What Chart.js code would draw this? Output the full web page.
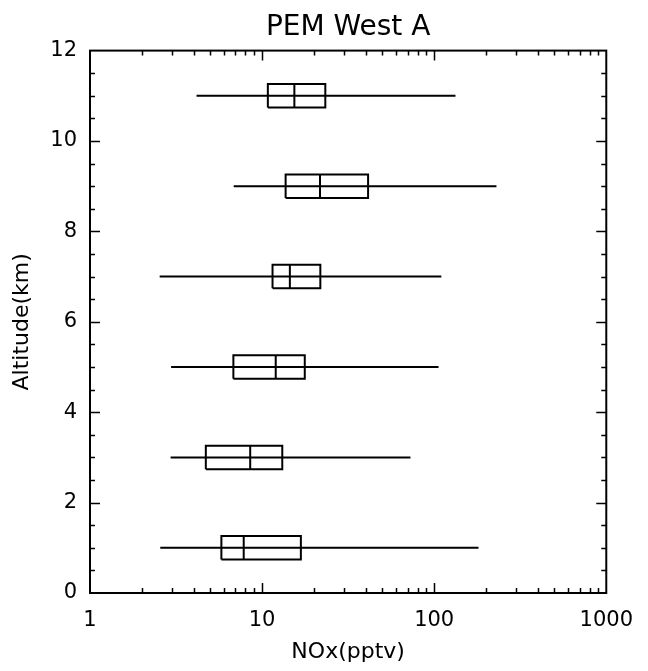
<!DOCTYPE html>
<html>
<head>
<meta charset="utf-8">
<title>PEM West A</title>
<script src="https://cdn.jsdelivr.net/npm/chart.js@4.4.1/dist/chart.umd.min.js"></script>
<style>
  html, body { margin: 0; padding: 0; background: #fff; }
  #wrap { width: 648px; height: 671px; position: relative; }
</style>
</head>
<body>
<div id="wrap"><canvas id="chartBox"></canvas></div>
<script>
// Altitude bins (km) and NOx statistics (pptv)
const altitudes   = [1, 3, 5, 7, 9, 11];
const whiskerLow  = [2.56, 2.94, 2.96, 2.54, 6.84, 4.16];
const quartile1   = [5.8, 4.71, 6.81, 11.5, 13.7, 10.8];
const medians     = [7.82, 8.53, 12.0, 14.5, 21.7, 15.4];
const quartile3   = [16.8, 13.1, 17.7, 21.8, 41.3, 23.3];
const whiskerHigh = [181, 72.8, 106, 110, 230, 133];

// Axis ticks
const xTickValues = [1, 10, 100, 1000];
const xTickLabels = ['1', '10', '100', '1000'];
const yTickValues = [0, 2, 4, 6, 8, 10, 12];

const BOX_HALF = 0.26; // half box height, in km

// Build line segments (null point = break in the line)
const gap = { x: null, y: null };
const whiskerPts = [], boxPts = [], medianPts = [];
altitudes.forEach(function(alt, i){
  whiskerPts.push({ x: whiskerLow[i], y: alt }, { x: whiskerHigh[i], y: alt }, gap);
  boxPts.push(
    { x: quartile1[i], y: alt - BOX_HALF },
    { x: quartile3[i], y: alt - BOX_HALF },
    { x: quartile3[i], y: alt + BOX_HALF },
    { x: quartile1[i], y: alt + BOX_HALF },
    { x: quartile1[i], y: alt - BOX_HALF },
    gap
  );
  medianPts.push({ x: medians[i], y: alt - BOX_HALF }, { x: medians[i], y: alt + BOX_HALF }, gap);
});

function lineSet(label, pts) {
  return {
    label: label, data: pts, showLine: true, spanGaps: false,
    borderColor: '#000', borderWidth: 2, pointRadius: 0, pointHoverRadius: 0,
    borderCapStyle: 'butt', borderJoinStyle: 'miter', tension: 0
  };
}

// Frame with inward ticks on all four sides (IDL style)
const frameTicks = {
  id: 'frameTicks',
  afterLayout(chart) {
    // centre the title over the plot box, not the whole canvas
    const tb = chart.titleBlock, a = chart.chartArea;
    if (tb) { tb.left = a.left; tb.right = a.right; tb.width = a.right - a.left; }
  },
  afterDatasetsDraw(chart) {
    const { ctx, chartArea: a, scales: { x, y } } = chart;
    ctx.save();
    ctx.strokeStyle = '#000';
    ctx.lineWidth = 2;
    ctx.strokeRect(a.left, a.top, a.right - a.left, a.bottom - a.top);
    ctx.lineWidth = 1.5;
    ctx.beginPath();
    // x: log ticks
    [1, 10, 100].forEach(function(dec){
      for (let m = 1; m <= 9; m++) {
        const v = dec * m;
        if (v <= 1) continue;
        const px = Math.round(x.getPixelForValue(v)) + 0.5;
        const len = (m === 1) ? 10 : 5;
        ctx.moveTo(px, a.bottom); ctx.lineTo(px, a.bottom - len);
        ctx.moveTo(px, a.top);    ctx.lineTo(px, a.top + len);
      }
    });
    // y: major every 2, minor every 0.5
    for (let k = 1; k < 24; k++) {
      const v = k * 0.5;
      const py = Math.round(y.getPixelForValue(v)) + 0.5;
      const len = (v % 2 === 0) ? 10 : 5;
      ctx.moveTo(a.left, py);  ctx.lineTo(a.left + len, py);
      ctx.moveTo(a.right, py); ctx.lineTo(a.right - len, py);
    }
    ctx.stroke();
    ctx.restore();
  }
};

const FONT = 'DejaVu Sans';
const ctx = document.getElementById('chartBox').getContext('2d');
new Chart(ctx, {
  type: 'scatter',
  data: {
    datasets: [
      lineSet('whiskers', whiskerPts),
      lineSet('boxes', boxPts),
      lineSet('medians', medianPts)
    ]
  },
  options: {
    responsive: true,
    maintainAspectRatio: false,
    animation: false,
    events: [],
    layout: { padding: { left: 0, right: 39, top: 0, bottom: 0 } },
    plugins: {
      legend: { display: false },
      tooltip: { enabled: false },
      title: {
        display: true,
        text: 'PEM West A',
        color: '#000',
        font: { family: FONT, size: 28, weight: 'normal' },
        padding: { top: 11, bottom: 6 }
      }
    },
    scales: {
      x: {
        type: 'logarithmic',
        min: 1, max: 1000,
        grid: { display: false, drawTicks: false },
        border: { display: false },
        afterBuildTicks: function(axis){
          axis.ticks = xTickValues.map(function(v){ return { value: v }; });
        },
        afterFit: function(axis){ axis.height = 78; },
        ticks: {
          color: '#000',
          padding: 15,
          maxRotation: 0,
          font: { family: FONT, size: 21 },
          callback: function(v){
            const i = xTickValues.indexOf(v);
            return i >= 0 ? xTickLabels[i] : '';
          }
        },
        title: {
          display: true,
          text: 'NOx(pptv)',
          color: '#000',
          font: { family: FONT, size: 22 },
          padding: { top: 0, bottom: 6 }
        }
      },
      y: {
        min: 0, max: 12,
        grid: { display: false, drawTicks: false },
        border: { display: false },
        afterBuildTicks: function(axis){
          axis.ticks = yTickValues.map(function(v){ return { value: v }; });
        },
        afterFit: function(axis){ axis.width = 90; },
        ticks: {
          color: '#000',
          padding: 13,
          font: { family: FONT, size: 21 }
        },
        title: {
          display: true,
          text: 'Altitude(km)',
          color: '#000',
          font: { family: FONT, size: 22 },
          padding: { top: 9, bottom: 0 }
        }
      }
    }
  },
  plugins: [frameTicks]
});
</script>
</body>
</html>
